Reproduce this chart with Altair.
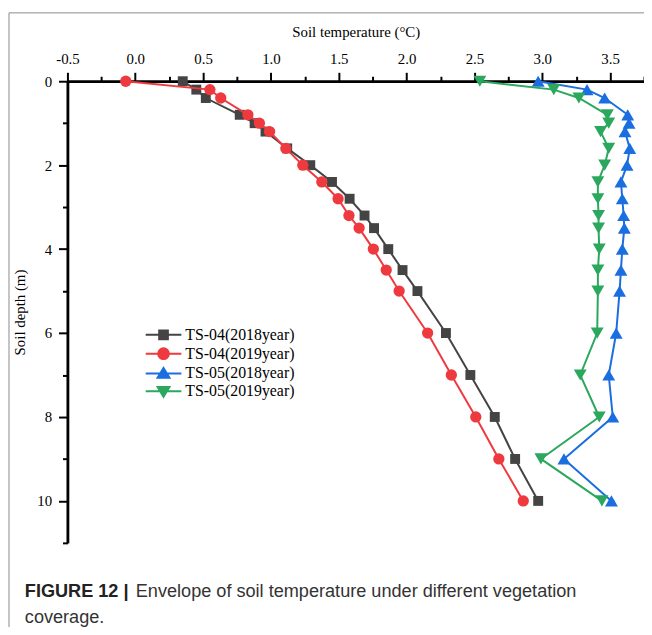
import altair as alt
import pandas as pd

# ---------------- data ----------------
depth = [0, 0.2, 0.4, 0.8, 1.0, 1.2, 1.6, 2.0, 2.4, 2.8, 3.2, 3.5, 4.0, 4.5, 5.0, 6.0, 7.0, 8.0, 9.0, 10.0]

ts04_2018 = [0.35, 0.45, 0.52, 0.77, 0.88, 0.96, 1.12, 1.29, 1.45, 1.58, 1.69, 1.76,
             1.865, 1.97, 2.08, 2.29, 2.47, 2.65, 2.80, 2.97]
ts04_2019 = [-0.07, 0.55, 0.63, 0.83, 0.915, 0.99, 1.11, 1.235, 1.375, 1.495, 1.575, 1.65,
             1.755, 1.85, 1.945, 2.155, 2.33, 2.51, 2.68, 2.86]
ts05_2018 = [2.97, 3.33, 3.46, 3.63, 3.64, 3.61, 3.645, 3.625, 3.58, 3.59, 3.60, 3.605,
             3.59, 3.58, 3.57, 3.545, 3.49, 3.52, 3.16, 3.51]
ts05_2019 = [2.54, 3.085, 3.27, 3.48, 3.49, 3.43, 3.49, 3.46, 3.41, 3.41, 3.415, 3.415,
             3.42, 3.41, 3.41, 3.405, 3.28, 3.42, 2.99, 3.44]

series_names = ["TS-04(2018year)", "TS-04(2019year)", "TS-05(2018year)", "TS-05(2019year)"]
series_values = [ts04_2018, ts04_2019, ts05_2018, ts05_2019]
colors = ["#444444", "#EE3A3F", "#1A6EE0", "#2BA85E"]
marker_shapes = ["square", "circle", "triangle-up", "triangle-down"]
marker_sizes = [100, 130, 170, 170]
# legend symbols: a short line through the marker
legend_paths = [
    "M-2.25,0H2.25M-0.55,-0.55H0.55V0.55H-0.55Z",
    "M-2.25,0H2.25M0.68,0A0.68,0.68,0,1,1,-0.68,0A0.68,0.68,0,1,1,0.68,0Z",
    "M-2.25,0H2.25M0,-0.7L0.75,0.55L-0.75,0.55Z",
    "M-2.25,0H2.25M0,0.7L0.75,-0.55L-0.75,-0.55Z",
]

x_major = [-0.5, 0.0, 0.5, 1.0, 1.5, 2.0, 2.5, 3.0, 3.5]
x_minor = [-0.25, 0.25, 0.75, 1.25, 1.75, 2.25, 2.75, 3.25, 3.75]
y_major = [0, 2, 4, 6, 8, 10]
y_minor = [1, 3, 5, 7, 9, 11]

x_title = "Soil temperature (°C)"
y_title = "Soil depth (m)"
caption_bold = "FIGURE 12 |"
caption_line1 = "Envelope of soil temperature under different vegetation"
caption_line2 = "coverage."

rows = []
for name, vals in zip(series_names, series_values):
    for d, t in zip(depth, vals):
        rows.append({"series": name, "temp": t, "depth": d})
df = pd.DataFrame(rows)

# ---------------- scales / axes ----------------
SERIF = "Liberation Serif"
xscale = alt.Scale(domain=[-0.5, 3.75], nice=False, zero=False)
yscale = alt.Scale(domain=[0, 11], nice=False, zero=False, reverse=True)
fill_scale = alt.Scale(domain=series_names, range=colors)
stroke_scale = alt.Scale(domain=series_names, range=colors)
shape_scale = alt.Scale(domain=series_names, range=legend_paths)

x_label_expr = "datum.value < 0 ? '-' + format(-datum.value, '.1f') : format(datum.value, '.1f')"

x_axis_major = alt.Axis(orient="top", values=x_major, labelExpr=x_label_expr, title=x_title,
                        tickSize=9, tickWidth=2, domainWidth=2.5, labelPadding=6,
                        titlePadding=12, titleFontSize=15, labelFontSize=15)
y_axis_major = alt.Axis(orient="left", values=y_major, format="d", title=y_title,
                        tickSize=9, tickWidth=2, domainWidth=2.5, labelPadding=7,
                        titlePadding=9, titleFontSize=15, labelFontSize=15)
x_axis_minor = alt.Axis(orient="top", values=x_minor, labels=False, title=None,
                        tickSize=5, tickWidth=2, domainWidth=2.5)
y_axis_minor = alt.Axis(orient="left", values=y_minor, labels=False, title=None,
                        tickSize=5, tickWidth=2, domainWidth=2.5)

leg = alt.Legend(orient="none", legendX=88, legendY=247, title=None,
                 labelFont=SERIF, labelFontSize=16, labelColor="black",
                 symbolSize=256, symbolStrokeWidth=2, symbolFillColor="#000000",
                 symbolStrokeColor="#000000", labelOffset=13, rowPadding=0)

# legend-only layer (first, so its legend settings win when legends merge)
legend_layer = alt.Chart(df).transform_filter("false").mark_point(
    filled=True, opacity=1, size=256, strokeWidth=2
).encode(
    fill=alt.Fill("series:N", scale=fill_scale, legend=leg),
    stroke=alt.Stroke("series:N", scale=stroke_scale, legend=leg),
    shape=alt.Shape("series:N", scale=shape_scale, legend=leg),
)

layers = [legend_layer]
for i, (name, shp, sz) in enumerate(zip(series_names, marker_shapes, marker_sizes)):
    xa = x_axis_minor if i == 0 else None
    ya = y_axis_minor if i == 0 else None
    line = alt.Chart(df).transform_filter(alt.datum.series == name).mark_line(
        strokeWidth=2
    ).encode(
        x=alt.X("temp:Q", scale=xscale, axis=xa),
        y=alt.Y("depth:Q", scale=yscale, axis=ya),
        order=alt.Order("depth:Q"),
        stroke=alt.Stroke("series:N", scale=stroke_scale, legend=None),
    )
    xa2 = x_axis_major if i == 0 else None
    ya2 = y_axis_major if i == 0 else None
    pts = alt.Chart(df).transform_filter(alt.datum.series == name).mark_point(
        filled=True, shape=shp, size=sz, opacity=1
    ).encode(
        x=alt.X("temp:Q", scale=xscale, axis=xa2),
        y=alt.Y("depth:Q", scale=yscale, axis=ya2),
        fill=alt.Fill("series:N", scale=fill_scale, legend=None),
    )
    layers += [line, pts]

one = pd.DataFrame({"k": [0]})
frame_left = alt.Chart(one).mark_rule(color="#8a8a8a", strokeWidth=1).encode(
    x=alt.value(-59), y=alt.value(-69), y2=alt.value(560))
frame_top = alt.Chart(one).mark_rule(color="#8a8a8a", strokeWidth=1).encode(
    x=alt.value(-59), x2=alt.value(590), y=alt.value(-69))

def caption(text, x, y, weight="normal", color="#333333"):
    return alt.Chart(pd.DataFrame({"t": [text]})).mark_text(
        font="Liberation Sans", fontSize=18.3, fontWeight=weight, align="left",
        baseline="alphabetic", color=color
    ).encode(x=alt.value(x), y=alt.value(y), text="t:N")

cap_bold = caption(caption_bold, -43, 521, weight="bold", color="#222222")
cap_1 = caption(caption_line1, 69, 521)
cap_2 = caption(caption_line2, -43, 547)

chart = alt.layer(
    *layers, frame_left, frame_top, cap_bold, cap_1, cap_2
).resolve_axis(
    x="independent", y="independent"
).properties(
    width=582, height=466, autosize="none",
    padding={"left": 60, "top": 71, "right": 0, "bottom": 82},
).configure_view(
    stroke=None
).configure_axis(
    labelFont=SERIF, titleFont=SERIF, labelColor="black", titleColor="black",
    domainColor="black", tickColor="black", grid=False, titleFontWeight="normal",
    labelFlush=False, labelOverlap=False,
)

chart.save("out.html", embed_options={"renderer": "svg", "actions": False})
